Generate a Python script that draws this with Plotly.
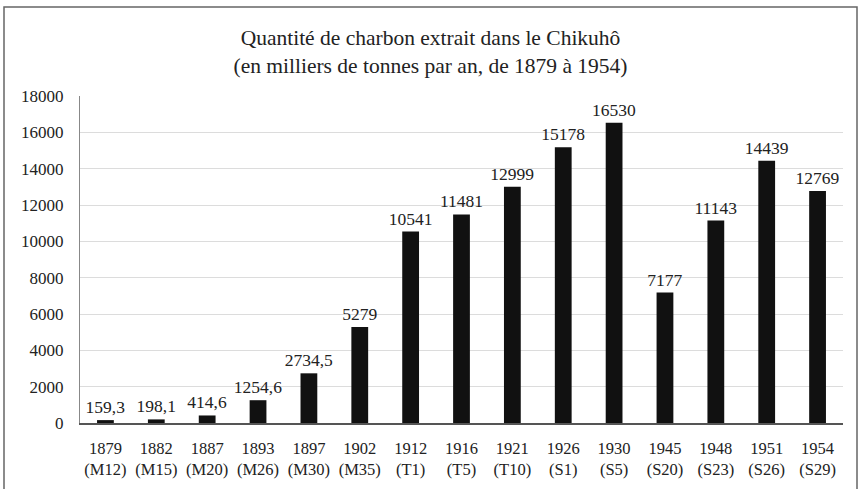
import plotly.graph_objects as go

years = ["1879", "1882", "1887", "1893", "1897", "1902", "1912", "1916",
         "1921", "1926", "1930", "1945", "1948", "1951", "1954"]
eras = ["M12", "M15", "M20", "M26", "M30", "M35", "T1", "T5",
        "T10", "S1", "S5", "S20", "S23", "S26", "S29"]
values = [159.3, 198.1, 414.6, 1254.6, 2734.5, 5279, 10541, 11481,
          12999, 15178, 16530, 7177, 11143, 14439, 12769]
labels = ["159,3", "198,1", "414,6", "1254,6", "2734,5", "5279", "10541", "11481",
          "12999", "15178", "16530", "7177", "11143", "14439", "12769"]

cats = [f"{y}<br>({e})" for y, e in zip(years, eras)]
font = "Liberation Serif, DejaVu Serif, serif"

W, H = 861, 489
L, R, T, B = 80, 18, 96, 66
pw, ph = W - L - R, H - T - B

fig = go.Figure(go.Bar(
    x=cats, y=values, text=labels, textposition="outside",
    constraintext="none",
    textfont=dict(size=17.5, color="#222", family=font),
    marker=dict(color="#111111", line=dict(width=0)),
    cliponaxis=False,
))

fig.update_layout(
    width=W, height=H,
    margin=dict(l=L, r=R, t=T, b=B, autoexpand=False),
    paper_bgcolor="white", plot_bgcolor="white",
    bargap=0.67,
    showlegend=False,
    font=dict(family=font, size=16, color="#222"),
    title=dict(
        text="Quantité de charbon extrait dans le Chikuhô<br>(en milliers de tonnes par an, de 1879 à 1954)",
        x=0.5, xanchor="center", xref="container", y=1 - 45 / H, yanchor="top",
        font=dict(size=21.5, color="#222", family=font),
    ),
    xaxis=dict(
        showgrid=False, showline=True, linecolor="#555", linewidth=1.5,
        ticks="", ticklabelstandoff=9,
        tickfont=dict(size=16.5, color="#222", family=font),
    ),
    yaxis=dict(
        range=[0, 18000], dtick=2000, tickformat="d",
        showgrid=True, gridcolor="#dcdcdc", gridwidth=1,
        showline=True, linecolor="#888", linewidth=1,
        zeroline=False, ticks="", ticklabelstandoff=12,
        tickfont=dict(size=17, color="#222", family=font),
    ),
    shapes=[dict(
        type="rect", xref="paper", yref="paper",
        x0=(4 - L) / pw, x1=(857 - L) / pw,
        y0=(H - T - (H + 6)) / ph, y1=(H - B - 7) / ph,
        line=dict(color="#666", width=1.5), fillcolor="rgba(0,0,0,0)",
        layer="below",
    )],
)

fig.write_html("out.html", config={"displayModeBar": False},
               post_script="document.body.style.margin='0';document.body.style.overflow='hidden';")
